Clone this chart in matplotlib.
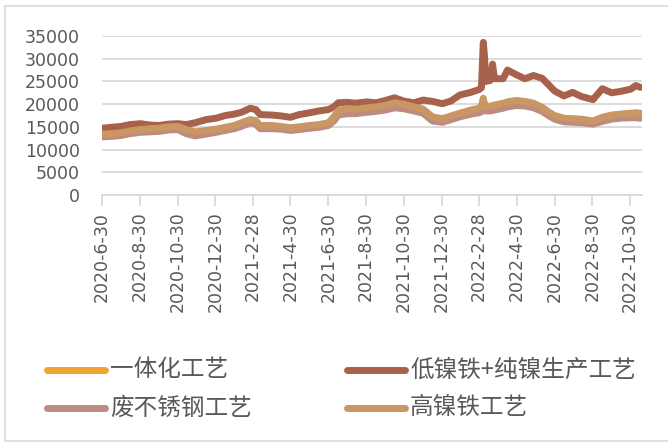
import matplotlib
matplotlib.use("Agg")
import matplotlib.pyplot as plt
from matplotlib.lines import Line2D
from matplotlib.patches import Rectangle
import pandas as pd

dates = ["2020-06-30", "2020-07-15", "2020-07-31", "2020-08-14", "2020-08-31", "2020-09-15",
         "2020-09-30", "2020-10-15", "2020-10-30", "2020-11-13", "2020-11-27", "2020-12-15",
         "2020-12-31", "2021-01-15", "2021-01-29", "2021-02-10", "2021-02-24", "2021-03-05",
         "2021-03-12", "2021-03-31", "2021-04-15", "2021-04-30", "2021-05-14", "2021-05-31",
         "2021-06-15", "2021-06-30", "2021-07-09", "2021-07-16", "2021-07-30", "2021-08-13",
         "2021-08-31", "2021-09-15", "2021-09-30", "2021-10-15", "2021-10-29", "2021-11-15",
         "2021-11-30", "2021-12-15", "2021-12-31", "2022-01-14", "2022-01-28", "2022-02-15",
         "2022-02-28", "2022-03-04", "2022-03-07", "2022-03-09", "2022-03-11", "2022-03-18",
         "2022-03-22", "2022-03-25", "2022-04-08", "2022-04-15", "2022-04-29", "2022-05-13",
         "2022-05-27", "2022-06-10", "2022-06-20", "2022-06-30", "2022-07-15", "2022-07-29",
         "2022-08-12", "2022-08-31", "2022-09-15", "2022-09-30", "2022-10-14", "2022-10-31",
         "2022-11-08", "2022-11-15"]

integrated = [13100, 13200, 13400, 13800, 14100, 14300, 14400, 14700, 14800, 14100, 13600, 13900,
              14200, 14600, 15000, 15600, 16300, 16100, 15000, 15000, 14800, 14500, 14700, 15000,
              15200, 15600, 16900, 18300, 18700, 18600, 18900, 19100, 19400, 20000, 19700, 19100,
              18600, 16900, 16500, 17100, 17700, 18400, 18800, 19100, 20200, 19600, 19300, 19200,
              19400, 19500, 19900, 20200, 20500, 20300, 19900, 19000, 18000, 17200, 16600, 16500,
              16400, 16000, 16800, 17300, 17500, 17700, 17800, 17700]

low_ni_pure_ni = [14700, 14900, 15100, 15500, 15700, 15400, 15300, 15600, 15700, 15500, 15900, 16600,
                  16900, 17500, 17800, 18200, 19100, 18800, 17700, 17600, 17400, 17100, 17700, 18100,
                  18500, 18800, 19400, 20300, 20400, 20200, 20500, 20300, 20800, 21400, 20700, 20300,
                  20900, 20600, 20100, 20700, 22000, 22600, 23200, 23600, 33600, 30500, 25000, 25200,
                  28800, 25600, 25600, 27500, 26500, 25600, 26300, 25700, 24300, 22900, 21800, 22600,
                  21700, 21000, 23400, 22500, 22800, 23300, 24100, 23700]

scrap_ss = [12800, 12900, 13100, 13500, 13800, 13900, 14000, 14300, 14400, 13500, 13000, 13400,
            13800, 14200, 14600, 15100, 15900, 15600, 14600, 14600, 14500, 14200, 14400, 14700,
            14900, 15300, 16300, 17600, 17900, 17900, 18200, 18400, 18700, 19200, 19000, 18500,
            18000, 16300, 16000, 16600, 17200, 17800, 18100, 18300, 18700, 18600, 18500, 18500,
            18600, 18700, 19100, 19400, 19700, 19600, 19200, 18400, 17500, 16700, 16100, 16000,
            15900, 15600, 16200, 16700, 16900, 17000, 17000, 16900]

high_ni = [13400, 13500, 13700, 14100, 14400, 14600, 14700, 15000, 15100, 14400, 13900, 14200,
           14500, 14900, 15300, 15900, 16600, 16400, 15300, 15300, 15100, 14800, 15000, 15300,
           15500, 15900, 17200, 18600, 19000, 18900, 19200, 19400, 19700, 20300, 20000, 19400,
           18900, 17200, 16800, 17400, 18000, 18700, 19100, 19400, 21300, 20000, 19600, 19500,
           19700, 19800, 20200, 20500, 20800, 20600, 20200, 19300, 18300, 17500, 16900, 16800,
           16700, 16300, 17100, 17600, 17800, 18000, 18100, 18000]

series_names = ["一体化工艺", "低镍铁+纯镍生产工艺", "废不锈钢工艺", "高镍铁工艺"]
series_colors = ["#F0A431", "#A8614A", "#BB8C7F", "#C99664"]

tick_dates = ["2020-06-30", "2020-08-30", "2020-10-30", "2020-12-30", "2021-02-28", "2021-04-30",
              "2021-06-30", "2021-08-30", "2021-10-30", "2021-12-30", "2022-02-28", "2022-04-30",
              "2022-06-30", "2022-08-30", "2022-10-30"]
tick_labels = ["2020-6-30", "2020-8-30", "2020-10-30", "2020-12-30", "2021-2-28", "2021-4-30",
               "2021-6-30", "2021-8-30", "2021-10-30", "2021-12-30", "2022-2-28", "2022-4-30",
               "2022-6-30", "2022-8-30", "2022-10-30"]
y_ticks = [0, 5000, 10000, 15000, 20000, 25000, 30000, 35000]

x = pd.to_datetime(dates)
fig = plt.figure(figsize=(6.68, 4.45), dpi=100)
ax = fig.add_axes([102 / 668, 1 - 195 / 445, 540 / 668, 159 / 445])

values = [integrated, low_ni_pure_ni, scrap_ss, high_ni]
for vals, c, name in zip(values, series_colors, series_names):
    ax.plot(x, vals, color=c, lw=5.0, solid_joinstyle="round", solid_capstyle="round", label=name)

ax.set_ylim(0, 35000)
ax.set_yticks(y_ticks)
ax.set_yticklabels([str(v) for v in y_ticks])
ax.set_xlim(pd.Timestamp("2020-06-30"), pd.Timestamp("2022-11-18"))
ax.set_xticks(pd.to_datetime(tick_dates))
ax.set_xticklabels(tick_labels, rotation=90)
ax.grid(axis="y", color="#D9D9D9", lw=1.3)
ax.set_axisbelow(True)
for s in ["left", "right", "top"]:
    ax.spines[s].set_visible(False)
ax.spines["bottom"].set_color("#D9D9D9")
ax.spines["bottom"].set_linewidth(1.3)
ax.tick_params(axis="x", colors="#D9D9D9", length=8, width=1.3, labelcolor="#595959",
               labelsize=12.5, pad=4)
ax.tick_params(axis="y", length=0, labelcolor="#595959", labelsize=12.5, pad=16)

leg_pos = [(47, 370), (347, 370), (47, 408), (347, 408)]
for (hx, hy), c, name in zip(leg_pos, series_colors, series_names):
    fig.add_artist(Line2D([hx / 668, (hx + 58) / 668], [1 - hy / 445, 1 - hy / 445],
                          color=c, lw=5.0, solid_capstyle="round"))
    fig.text((hx + 63) / 668, 1 - hy / 445, name, fontsize=17, color="#595959",
             va="center", ha="left", family=["Noto Sans CJK SC", "DejaVu Sans"])

fig.add_artist(Rectangle((5 / 668, 4 / 445), 700 / 668, 435 / 445, fill=False,
                         edgecolor="#D9D9D9", lw=1.2, transform=fig.transFigure))

fig.savefig("out.png", dpi=100)
